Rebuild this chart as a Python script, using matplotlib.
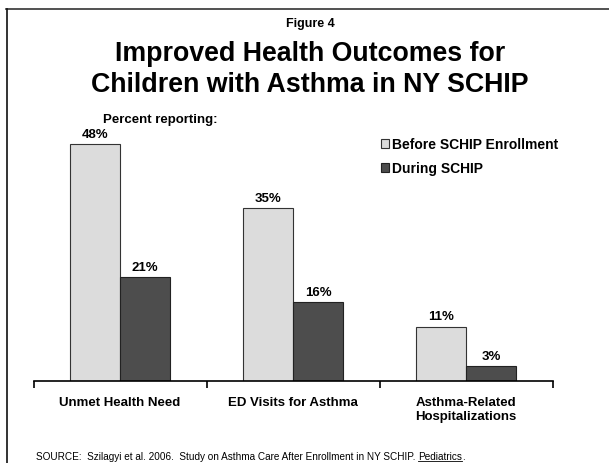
import matplotlib
matplotlib.use("Agg")
import matplotlib.pyplot as plt
import numpy as np
from matplotlib.lines import Line2D

plt.rcParams['font.family'] = ['Liberation Sans', 'DejaVu Sans']

categories = ['Unmet Health Need', 'ED Visits for Asthma', 'Asthma-Related\nHospitalizations']
before = [48, 35, 11]
during = [21, 16, 3]
series_names = ['Before SCHIP Enrollment', 'During SCHIP']
light = '#dcdcdc'
dark = '#4d4d4d'

W, H = 609, 464
fig = plt.figure(figsize=(W / 100, H / 100), dpi=100)
ax = fig.add_axes([33.5 / W, 82 / H, 519 / W, 246.5 / H])

x = np.arange(len(categories))
w = 0.289
b1 = ax.bar(x - w / 2, before, w, color=light, edgecolor='#333333', linewidth=0.8,
            label=series_names[0])
b2 = ax.bar(x + w / 2, during, w, color=dark, edgecolor='#222222', linewidth=0.8,
            label=series_names[1])

for bars, vals in ((b1, before), (b2, during)):
    for r, v in zip(bars, vals):
        ax.text(r.get_x() + r.get_width() / 2, v + 1.5, f'{v}%', ha='center',
                va='baseline', fontsize=9.5, fontweight='bold')

ax.set_xlim(-0.5, 2.5)
ax.set_ylim(0, 50)
for s in ('top', 'right', 'left'):
    ax.spines[s].set_visible(False)
ax.spines['bottom'].set_linewidth(1.2)
ax.set_yticks([])
ax.set_xticks([-0.5, 0.5, 1.5, 2.5])
ax.set_xticklabels([])
ax.tick_params(axis='x', direction='out', length=5, width=1.2)
for i, c in enumerate(categories):
    ax.text(i, -3.1, c, ha='center', va='top', fontsize=9.5, fontweight='bold',
            linespacing=1.22)

ax.legend(loc='upper left', bbox_to_anchor=(381 / W, 1 - 138.5 / H),
          bbox_transform=fig.transFigure, frameon=False, borderpad=0, borderaxespad=0,
          prop={'size': 10, 'weight': 'bold'}, handlelength=0.55, handleheight=0.55,
          handletextpad=0.25, labelspacing=0.72)

# frame lines (top and left only)
fig.add_artist(Line2D([6 / W, 1], [1 - 10 / H, 1 - 10 / H], color='#333333', lw=1.2))
fig.add_artist(Line2D([7 / W, 7 / W], [0, 1 - 10 / H], color='#111111', lw=1.2))

cx = 310 / W
fig.text(cx, 1 - 27 / H, 'Figure 4', ha='center', va='baseline', fontsize=9,
         fontweight='bold')
fig.text(cx, 1 - 61 / H, 'Improved Health Outcomes for',
         ha='center', va='baseline', fontsize=19.3, fontweight='bold')
fig.text(cx, 1 - 92.5 / H, 'Children with Asthma in NY SCHIP',
         ha='center', va='baseline', fontsize=19.3, fontweight='bold')
fig.text(103 / W, 1 - 122.7 / H, 'Percent reporting:', ha='left', va='baseline',
         fontsize=9.5, fontweight='bold')

src_y = 1 - 460.5 / H
src = fig.text(36 / W, src_y,
               'SOURCE:  Szilagyi et al. 2006.  Study on Asthma Care After Enrollment in NY SCHIP. ',
               ha='left', va='baseline', fontsize=7.2)
fig.canvas.draw()
bb = src.get_window_extent()
pub = fig.text(bb.x1 / W, src_y, 'Pediatrics', ha='left', va='baseline', fontsize=7.2)
fig.canvas.draw()
pb = pub.get_window_extent()
fig.add_artist(Line2D([pb.x0 / W, pb.x1 / W], [(H - 461.5) / H] * 2, color='black', lw=0.6))
fig.text(pb.x1 / W, src_y, '.', ha='left', va='baseline', fontsize=7.2)

fig.savefig('out.png', dpi=100)
